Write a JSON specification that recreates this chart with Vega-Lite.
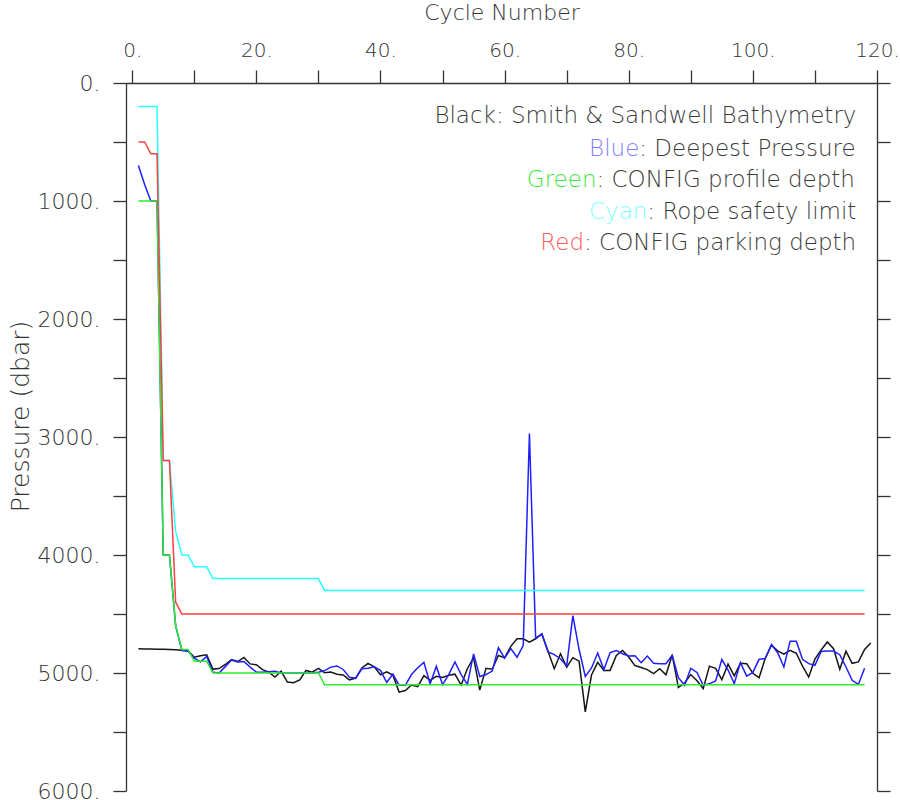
{
  "$schema": "https://vega.github.io/schema/vega-lite/v6.json",
  "width": 751,
  "height": 708,
  "autosize": {"type": "none"},
  "padding": {"left": 126, "top": 83, "right": 23, "bottom": 9},
  "background": "white",
  "config": {
    "view": {"stroke": null},
    "font": "DejaVu Sans",
    "axis": {"grid": false, "domainColor": "#333333", "tickColor": "#333333", "labelColor": "#333333", "titleColor": "#333333", "domainWidth": 1.3, "tickWidth": 1.3, "labelFontWeight": 200, "titleFontWeight": 200}
  },
  "datasets": {
    "float": [
      {"c": 1, "bathy": 4795, "deep": 700, "prof": 1000, "rope": 200, "park": 500},
      {"c": 2, "bathy": 4796, "deep": 860, "prof": 1000, "rope": 200, "park": 500},
      {"c": 3, "bathy": 4797, "deep": 1000, "prof": 1000, "rope": 200, "park": 600},
      {"c": 4, "bathy": 4798, "deep": 1000, "prof": 1000, "rope": 200, "park": 600},
      {"c": 5, "bathy": 4799, "deep": 4000, "prof": 4000, "rope": 3200, "park": 3200},
      {"c": 6, "bathy": 4801, "deep": 4000, "prof": 4000, "rope": 3200, "park": 3200},
      {"c": 7, "bathy": 4803, "deep": 4600, "prof": 4600, "rope": 3800, "park": 4400},
      {"c": 8, "bathy": 4808, "deep": 4810, "prof": 4800, "rope": 4000, "park": 4500},
      {"c": 9, "bathy": 4812, "deep": 4815, "prof": 4800, "rope": 4000, "park": 4500},
      {"c": 10, "bathy": 4866, "deep": 4875, "prof": 4900, "rope": 4100, "park": 4500},
      {"c": 11, "bathy": 4853, "deep": 4905, "prof": 4900, "rope": 4100, "park": 4500},
      {"c": 12, "bathy": 4845, "deep": 4860, "prof": 4900, "rope": 4100, "park": 4500},
      {"c": 13, "bathy": 4967, "deep": 4993, "prof": 5000, "rope": 4200, "park": 4500},
      {"c": 14, "bathy": 4962, "deep": 5000, "prof": 5000, "rope": 4200, "park": 4500},
      {"c": 15, "bathy": 4928, "deep": 4946, "prof": 5000, "rope": 4200, "park": 4500},
      {"c": 16, "bathy": 4886, "deep": 4890, "prof": 5000, "rope": 4200, "park": 4500},
      {"c": 17, "bathy": 4903, "deep": 4907, "prof": 5000, "rope": 4200, "park": 4500},
      {"c": 18, "bathy": 4868, "deep": 4903, "prof": 5000, "rope": 4200, "park": 4500},
      {"c": 19, "bathy": 4923, "deep": 4950, "prof": 5000, "rope": 4200, "park": 4500},
      {"c": 20, "bathy": 4930, "deep": 4993, "prof": 5000, "rope": 4200, "park": 4500},
      {"c": 21, "bathy": 4972, "deep": 4993, "prof": 5000, "rope": 4200, "park": 4500},
      {"c": 22, "bathy": 4993, "deep": 4990, "prof": 5000, "rope": 4200, "park": 4500},
      {"c": 23, "bathy": 5035, "deep": 4985, "prof": 5000, "rope": 4200, "park": 4500},
      {"c": 24, "bathy": 4985, "deep": 5000, "prof": 5000, "rope": 4200, "park": 4500},
      {"c": 25, "bathy": 5077, "deep": 5000, "prof": 5000, "rope": 4200, "park": 4500},
      {"c": 26, "bathy": 5083, "deep": 5000, "prof": 5000, "rope": 4200, "park": 4500},
      {"c": 27, "bathy": 5058, "deep": 5000, "prof": 5000, "rope": 4200, "park": 4500},
      {"c": 28, "bathy": 4978, "deep": 5000, "prof": 5000, "rope": 4200, "park": 4500},
      {"c": 29, "bathy": 4993, "deep": 5000, "prof": 5000, "rope": 4200, "park": 4500},
      {"c": 30, "bathy": 4960, "deep": 4993, "prof": 5000, "rope": 4200, "park": 4500},
      {"c": 31, "bathy": 4997, "deep": 4980, "prof": 5100, "rope": 4300, "park": 4500},
      {"c": 32, "bathy": 4992, "deep": 4950, "prof": 5100, "rope": 4300, "park": 4500},
      {"c": 33, "bathy": 5010, "deep": 4940, "prof": 5100, "rope": 4300, "park": 4500},
      {"c": 34, "bathy": 5016, "deep": 4970, "prof": 5100, "rope": 4300, "park": 4500},
      {"c": 35, "bathy": 5058, "deep": 5035, "prof": 5100, "rope": 4300, "park": 4500},
      {"c": 36, "bathy": 5043, "deep": 5045, "prof": 5100, "rope": 4300, "park": 4500},
      {"c": 37, "bathy": 4957, "deep": 4964, "prof": 5100, "rope": 4300, "park": 4500},
      {"c": 38, "bathy": 4919, "deep": 4959, "prof": 5100, "rope": 4300, "park": 4500},
      {"c": 39, "bathy": 4947, "deep": 4948, "prof": 5100, "rope": 4300, "park": 4500},
      {"c": 40, "bathy": 5015, "deep": 4978, "prof": 5100, "rope": 4300, "park": 4500},
      {"c": 41, "bathy": 4990, "deep": 5080, "prof": 5100, "rope": 4300, "park": 4500},
      {"c": 42, "bathy": 5018, "deep": 5010, "prof": 5100, "rope": 4300, "park": 4500},
      {"c": 43, "bathy": 5162, "deep": 5102, "prof": 5100, "rope": 4300, "park": 4500},
      {"c": 44, "bathy": 5148, "deep": 5104, "prof": 5100, "rope": 4300, "park": 4500},
      {"c": 45, "bathy": 5102, "deep": 5013, "prof": 5100, "rope": 4300, "park": 4500},
      {"c": 46, "bathy": 5116, "deep": 4956, "prof": 5100, "rope": 4300, "park": 4500},
      {"c": 47, "bathy": 5023, "deep": 4910, "prof": 5100, "rope": 4300, "park": 4500},
      {"c": 48, "bathy": 5063, "deep": 5091, "prof": 5100, "rope": 4300, "park": 4500},
      {"c": 49, "bathy": 5028, "deep": 4944, "prof": 5100, "rope": 4300, "park": 4500},
      {"c": 50, "bathy": 5038, "deep": 5098, "prof": 5100, "rope": 4300, "park": 4500},
      {"c": 51, "bathy": 5019, "deep": 5013, "prof": 5100, "rope": 4300, "park": 4500},
      {"c": 52, "bathy": 5010, "deep": 4907, "prof": 5100, "rope": 4300, "park": 4500},
      {"c": 53, "bathy": 5102, "deep": 5013, "prof": 5100, "rope": 4300, "park": 4500},
      {"c": 54, "bathy": 4964, "deep": 5096, "prof": 5100, "rope": 4300, "park": 4500},
      {"c": 55, "bathy": 4870, "deep": 4838, "prof": 5100, "rope": 4300, "park": 4500},
      {"c": 56, "bathy": 5145, "deep": 5030, "prof": 5100, "rope": 4300, "park": 4500},
      {"c": 57, "bathy": 4960, "deep": 5013, "prof": 5100, "rope": 4300, "park": 4500},
      {"c": 58, "bathy": 4968, "deep": 4984, "prof": 5100, "rope": 4300, "park": 4500},
      {"c": 59, "bathy": 4852, "deep": 4786, "prof": 5100, "rope": 4300, "park": 4500},
      {"c": 60, "bathy": 4872, "deep": 4874, "prof": 5100, "rope": 4300, "park": 4500},
      {"c": 61, "bathy": 4774, "deep": 4793, "prof": 5100, "rope": 4300, "park": 4500},
      {"c": 62, "bathy": 4710, "deep": 4867, "prof": 5100, "rope": 4300, "park": 4500},
      {"c": 63, "bathy": 4710, "deep": 4767, "prof": 5100, "rope": 4300, "park": 4500},
      {"c": 64, "bathy": 4739, "deep": 2970, "prof": 5100, "rope": 4300, "park": 4500},
      {"c": 65, "bathy": 4710, "deep": 4705, "prof": 5100, "rope": 4300, "park": 4500},
      {"c": 66, "bathy": 4669, "deep": 4669, "prof": 5100, "rope": 4300, "park": 4500},
      {"c": 67, "bathy": 4816, "deep": 4821, "prof": 5100, "rope": 4300, "park": 4500},
      {"c": 68, "bathy": 4964, "deep": 4844, "prof": 5100, "rope": 4300, "park": 4500},
      {"c": 69, "bathy": 4837, "deep": 4879, "prof": 5100, "rope": 4300, "park": 4500},
      {"c": 70, "bathy": 4950, "deep": 4940, "prof": 5100, "rope": 4300, "park": 4500},
      {"c": 71, "bathy": 4870, "deep": 4514, "prof": 5100, "rope": 4300, "park": 4500},
      {"c": 72, "bathy": 4900, "deep": 4801, "prof": 5100, "rope": 4300, "park": 4500},
      {"c": 73, "bathy": 5330, "deep": 5030, "prof": 5100, "rope": 4300, "park": 4500},
      {"c": 74, "bathy": 5017, "deep": 4957, "prof": 5100, "rope": 4300, "park": 4500},
      {"c": 75, "bathy": 4910, "deep": 4830, "prof": 5100, "rope": 4300, "park": 4500},
      {"c": 76, "bathy": 4978, "deep": 4971, "prof": 5100, "rope": 4300, "park": 4500},
      {"c": 77, "bathy": 4978, "deep": 4827, "prof": 5100, "rope": 4300, "park": 4500},
      {"c": 78, "bathy": 4852, "deep": 4809, "prof": 5100, "rope": 4300, "park": 4500},
      {"c": 79, "bathy": 4809, "deep": 4837, "prof": 5100, "rope": 4300, "park": 4500},
      {"c": 80, "bathy": 4864, "deep": 4855, "prof": 5100, "rope": 4300, "park": 4500},
      {"c": 81, "bathy": 4937, "deep": 4854, "prof": 5100, "rope": 4300, "park": 4500},
      {"c": 82, "bathy": 4954, "deep": 4913, "prof": 5100, "rope": 4300, "park": 4500},
      {"c": 83, "bathy": 4971, "deep": 4856, "prof": 5100, "rope": 4300, "park": 4500},
      {"c": 84, "bathy": 5005, "deep": 4918, "prof": 5100, "rope": 4300, "park": 4500},
      {"c": 85, "bathy": 4963, "deep": 4921, "prof": 5100, "rope": 4300, "park": 4500},
      {"c": 86, "bathy": 5015, "deep": 4921, "prof": 5100, "rope": 4300, "park": 4500},
      {"c": 87, "bathy": 4847, "deep": 4850, "prof": 5100, "rope": 4300, "park": 4500},
      {"c": 88, "bathy": 5122, "deep": 5040, "prof": 5100, "rope": 4300, "park": 4500},
      {"c": 89, "bathy": 5085, "deep": 5104, "prof": 5100, "rope": 4300, "park": 4500},
      {"c": 90, "bathy": 5013, "deep": 4960, "prof": 5100, "rope": 4300, "park": 4500},
      {"c": 91, "bathy": 5066, "deep": 4995, "prof": 5100, "rope": 4300, "park": 4500},
      {"c": 92, "bathy": 5132, "deep": 5104, "prof": 5100, "rope": 4300, "park": 4500},
      {"c": 93, "bathy": 4942, "deep": 5090, "prof": 5100, "rope": 4300, "park": 4500},
      {"c": 94, "bathy": 4960, "deep": 5068, "prof": 5100, "rope": 4300, "park": 4500},
      {"c": 95, "bathy": 5057, "deep": 4884, "prof": 5100, "rope": 4300, "park": 4500},
      {"c": 96, "bathy": 4925, "deep": 4975, "prof": 5100, "rope": 4300, "park": 4500},
      {"c": 97, "bathy": 5024, "deep": 5090, "prof": 5100, "rope": 4300, "park": 4500},
      {"c": 98, "bathy": 4918, "deep": 4912, "prof": 5100, "rope": 4300, "park": 4500},
      {"c": 99, "bathy": 4921, "deep": 5027, "prof": 5100, "rope": 4300, "park": 4500},
      {"c": 100, "bathy": 5002, "deep": 4995, "prof": 5100, "rope": 4300, "park": 4500},
      {"c": 101, "bathy": 5040, "deep": 4884, "prof": 5100, "rope": 4300, "park": 4500},
      {"c": 102, "bathy": 4875, "deep": 4878, "prof": 5100, "rope": 4300, "park": 4500},
      {"c": 103, "bathy": 4765, "deep": 4758, "prof": 5100, "rope": 4300, "park": 4500},
      {"c": 104, "bathy": 4812, "deep": 4828, "prof": 5100, "rope": 4300, "park": 4500},
      {"c": 105, "bathy": 4840, "deep": 4949, "prof": 5100, "rope": 4300, "park": 4500},
      {"c": 106, "bathy": 4808, "deep": 4730, "prof": 5100, "rope": 4300, "park": 4500},
      {"c": 107, "bathy": 4833, "deep": 4730, "prof": 5100, "rope": 4300, "park": 4500},
      {"c": 108, "bathy": 4942, "deep": 4884, "prof": 5100, "rope": 4300, "park": 4500},
      {"c": 109, "bathy": 5034, "deep": 4921, "prof": 5100, "rope": 4300, "park": 4500},
      {"c": 110, "bathy": 4882, "deep": 4935, "prof": 5100, "rope": 4300, "park": 4500},
      {"c": 111, "bathy": 4805, "deep": 4817, "prof": 5100, "rope": 4300, "park": 4500},
      {"c": 112, "bathy": 4737, "deep": 4814, "prof": 5100, "rope": 4300, "park": 4500},
      {"c": 113, "bathy": 4794, "deep": 4814, "prof": 5100, "rope": 4300, "park": 4500},
      {"c": 114, "bathy": 4968, "deep": 4845, "prof": 5100, "rope": 4300, "park": 4500},
      {"c": 115, "bathy": 4815, "deep": 4949, "prof": 5100, "rope": 4300, "park": 4500},
      {"c": 116, "bathy": 4918, "deep": 5062, "prof": 5100, "rope": 4300, "park": 4500},
      {"c": 117, "bathy": 4906, "deep": 5097, "prof": 5100, "rope": 4300, "park": 4500},
      {"c": 118, "bathy": 4800, "deep": 4960, "prof": 5100, "rope": 4300, "park": 4500},
      {"c": 119, "bathy": 4745}
    ],
    "notes": [
      {"c": 58.6, "p": 342, "k": "Black", "r": ": Smith & Sandwell Bathymetry"},
      {"c": 81.7, "p": 619, "k": "Blue", "r": ": Deepest Pressure"},
      {"c": 74.8, "p": 879, "k": "Green", "r": ": CONFIG profile depth"},
      {"c": 83.0, "p": 1153, "k": "Cyan", "r": ": Rope safety limit"},
      {"c": 72.8, "p": 1415, "k": "Red", "r": ": CONFIG parking depth"}
    ]
  },
  "encoding": {
    "x": {
      "field": "c",
      "type": "quantitative",
      "scale": {"domain": [-1, 120], "nice": false, "zero": false},
      "axis": {
        "orient": "top",
        "values": [0, 10, 20, 30, 40, 50, 60, 70, 80, 90, 100, 110, 120],
        "labelExpr": "datum.value % 20 === 0 ? format(datum.value, 'd') + '.' : ''",
        "tickSize": 13,
        "labelPadding": 10,
        "labelFontSize": 20,
        "labelFlush": false,
        "labelOverlap": false,
        "title": "Cycle Number",
        "titleFontSize": 22,
        "titlePadding": 16
      }
    }
  },
  "layer": [
    {
      "data": {"name": "float"},
      "mark": {"type": "line", "color": "#151515", "strokeWidth": 1.5},
      "encoding": {
        "y": {
          "field": "bathy",
          "type": "quantitative",
          "scale": {"domain": [0, 6000], "reverse": true, "nice": false, "zero": false},
          "axis": {
            "orient": "left",
            "values": [0, 500, 1000, 1500, 2000, 2500, 3000, 3500, 4000, 4500, 5000, 5500, 6000],
            "labelExpr": "datum.value % 1000 === 0 ? format(datum.value, 'd') + '.' : ''",
            "tickSize": 13,
            "labelPadding": 13,
            "labelFontSize": 22,
            "labelOverlap": false,
            "labelFlush": false,
            "title": "Pressure (dbar)",
            "titleFontSize": 25,
            "titlePadding": 4,
            "titleY": 333
          }
        }
      }
    },
    {
      "data": {"name": "float"},
      "mark": {"type": "line", "color": "#1f1fff", "strokeWidth": 1.5},
      "encoding": {
        "y": {
          "field": "deep",
          "type": "quantitative",
          "scale": {"domain": [0, 6000], "reverse": true, "nice": false, "zero": false},
          "axis": {
            "orient": "right",
            "values": [0, 500, 1000, 1500, 2000, 2500, 3000, 3500, 4000, 4500, 5000, 5500, 6000],
            "labels": false,
            "tickSize": 13,
            "title": null
          }
        }
      }
    },
    {
      "data": {"name": "float"},
      "mark": {"type": "line", "color": "#2bee2b", "strokeWidth": 1.5},
      "encoding": {
        "y": {"field": "prof", "type": "quantitative", "scale": {"domain": [0, 6000], "reverse": true, "nice": false, "zero": false}, "axis": null}
      }
    },
    {
      "data": {"name": "float"},
      "mark": {"type": "line", "color": "#2cffff", "strokeWidth": 1.5},
      "encoding": {
        "y": {"field": "rope", "type": "quantitative", "scale": {"domain": [0, 6000], "reverse": true, "nice": false, "zero": false}, "axis": null}
      }
    },
    {
      "data": {"name": "float"},
      "mark": {"type": "line", "color": "#ff4040", "strokeWidth": 1.5},
      "encoding": {
        "y": {"field": "park", "type": "quantitative", "scale": {"domain": [0, 6000], "reverse": true, "nice": false, "zero": false}, "axis": null}
      }
    },
    {
      "data": {"name": "notes"},
      "mark": {"type": "text", "align": "left", "baseline": "alphabetic", "fontSize": 23, "fontWeight": 200, "color": "#3a3a3a"},
      "encoding": {
        "y": {"field": "p", "type": "quantitative", "scale": {"domain": [0, 6000], "reverse": true, "nice": false, "zero": false}, "axis": null},
        "text": {"field": "r"}
      }
    },
    {
      "data": {"name": "notes"},
      "mark": {"type": "text", "align": "right", "baseline": "alphabetic", "fontSize": 23, "fontWeight": 200},
      "encoding": {
        "y": {"field": "p", "type": "quantitative", "scale": {"domain": [0, 6000], "reverse": true, "nice": false, "zero": false}, "axis": null},
        "text": {"field": "k"},
        "color": {
          "field": "k",
          "type": "nominal",
          "scale": {"domain": ["Black", "Blue", "Green", "Cyan", "Red"], "range": ["#3a3a3a", "#7f7fff", "#3de83d", "#7fffff", "#ff5a5a"]},
          "legend": null
        }
      }
    }
  ],
  "resolve": {"axis": {"y": "independent"}}
}
